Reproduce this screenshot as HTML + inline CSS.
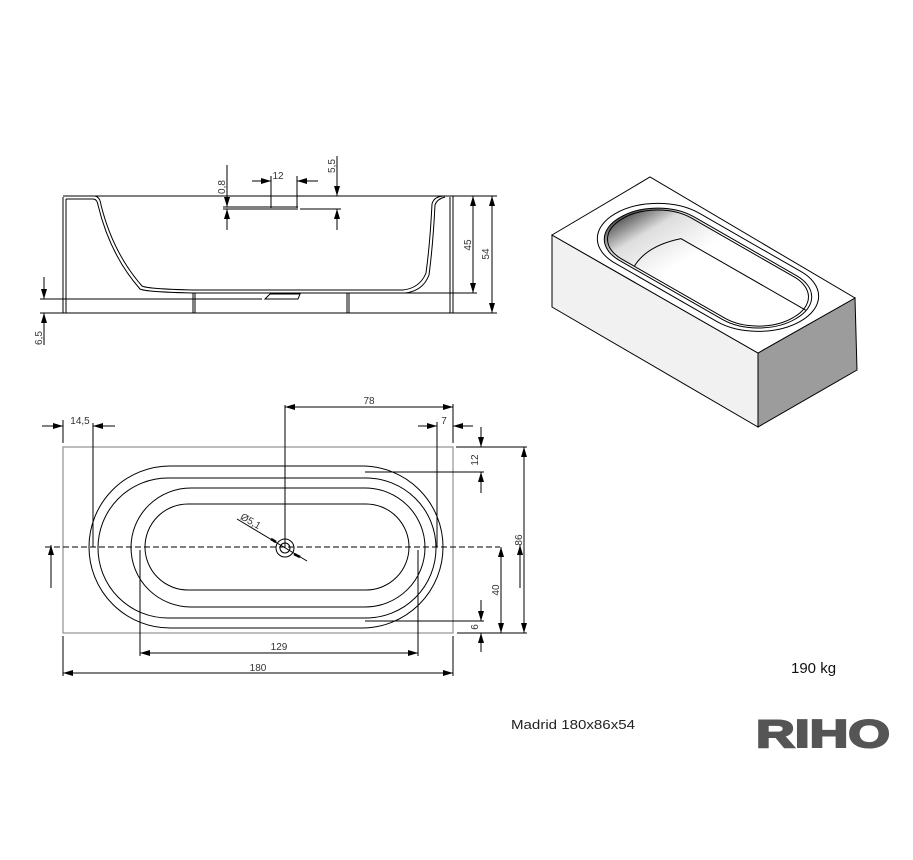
<!DOCTYPE html>
<html><head><meta charset="utf-8"><style>
html,body{margin:0;padding:0;background:#fff;}
svg{display:block;}
text{font-family:"Liberation Sans",Arial,sans-serif;}
</style></head><body>
<svg width="913" height="860" viewBox="0 0 913 860" xmlns="http://www.w3.org/2000/svg">
<defs>
<marker id="a" viewBox="0 0 10 6" refX="10" refY="3" markerWidth="10" markerHeight="6" orient="auto-start-reverse" markerUnits="userSpaceOnUse"><path d="M0,0 L10,3 L0,6 z" fill="#000"/></marker>
<linearGradient id="g" x1="0" y1="0" x2="1" y2="0"><stop offset="0" stop-color="#555"/><stop offset="0.15" stop-color="#ddd"/><stop offset="0.4" stop-color="#fff"/></linearGradient>
</defs>
<g stroke="#000" stroke-width="1" fill="none">
<line x1="63" y1="196" x2="453" y2="196"/>
<line x1="40" y1="313" x2="497" y2="313"/>
<line x1="40" y1="299" x2="262" y2="299"/>
<line x1="405" y1="293" x2="477" y2="293"/>
<line x1="63" y1="197" x2="63" y2="313"/><line x1="66" y1="199" x2="66" y2="313"/>
<line x1="450" y1="197" x2="450" y2="313"/><line x1="453" y1="196" x2="453" y2="313"/>
<path d="M66,199 L93,199 Q97,199 98,205 Q110,255 140,289 Q146,292 193,293 L405,293 Q423,291 429,275 Q433,245 435,205 Q437,199 445,197"/>
<path d="M95,196 Q100,197 101,205 Q113,253 142,286 Q148,289 193,290 L403,290 Q420,288 426,273 Q430,244 432,204 Q434,196 445,196"/>
<line x1="193" y1="293" x2="193" y2="313"/><line x1="195" y1="293" x2="195" y2="313"/>
<line x1="347" y1="293" x2="347" y2="313"/><line x1="349" y1="293" x2="349" y2="313"/>
<path d="M265,299 L270,294 L300,294 L298,299 z"/>
<line x1="223" y1="207" x2="298" y2="207"/><line x1="223" y1="209" x2="298" y2="209"/>
<line x1="271" y1="176" x2="271" y2="208"/><line x1="297" y1="176" x2="297" y2="208"/>
<line x1="252" y1="181" x2="271" y2="181" marker-end="url(#a)"/><line x1="318" y1="181" x2="297" y2="181" marker-end="url(#a)"/>
<line x1="227" y1="165" x2="227" y2="207" marker-end="url(#a)"/><line x1="227" y1="230" x2="227" y2="209" marker-end="url(#a)"/>
<line x1="300" y1="209" x2="341" y2="209"/>
<line x1="337" y1="156" x2="337" y2="196" marker-end="url(#a)"/><line x1="337" y1="230" x2="337" y2="209" marker-end="url(#a)"/>
<line x1="473" y1="196" x2="473" y2="293" marker-start="url(#a)" marker-end="url(#a)"/>
<line x1="453" y1="196" x2="497" y2="196"/>
<line x1="492" y1="196" x2="492" y2="313" marker-start="url(#a)" marker-end="url(#a)"/>
<line x1="44" y1="277" x2="44" y2="299" marker-end="url(#a)"/>
<line x1="44" y1="345" x2="44" y2="313" marker-end="url(#a)"/>

<rect x="63" y="447" width="390" height="186" stroke="#999" stroke-width="1.3"/>
<line x1="45" y1="547" x2="500" y2="547" stroke-dasharray="6,3"/>
<rect x="89" y="466" width="354" height="162" rx="81" ry="81"/>
<rect x="98" y="478" width="338" height="140" rx="70" ry="70"/>
<rect x="131" y="488" width="294" height="119" rx="60" ry="60"/>
<rect x="145" y="504" width="264" height="86" rx="43" ry="43"/>
<circle cx="285" cy="548" r="9"/><circle cx="285" cy="548" r="5"/>
<line x1="237" y1="519" x2="307" y2="561"/>
<path d="M271,539 L276,542" stroke-width="2.5"/><path d="M294,554 L300,557" stroke-width="2.5"/>
<line x1="285" y1="405" x2="285" y2="548"/>
<line x1="285" y1="407" x2="453" y2="407" marker-start="url(#a)" marker-end="url(#a)"/>
<line x1="453" y1="404" x2="453" y2="443"/>
<line x1="63" y1="420" x2="63" y2="443"/>
<line x1="93" y1="423" x2="93" y2="547"/>
<line x1="42" y1="426" x2="63" y2="426" marker-end="url(#a)"/><line x1="115" y1="426" x2="93" y2="426" marker-end="url(#a)"/>
<line x1="437" y1="422" x2="437" y2="547"/>
<line x1="418" y1="426" x2="437" y2="426" marker-end="url(#a)"/><line x1="473" y1="426" x2="453" y2="426" marker-end="url(#a)"/>
<line x1="456" y1="447" x2="527" y2="447"/>
<line x1="365" y1="472" x2="484" y2="472"/>
<line x1="481" y1="427" x2="481" y2="447" marker-end="url(#a)"/><line x1="481" y1="493" x2="481" y2="472" marker-end="url(#a)"/>
<line x1="524" y1="447" x2="524" y2="633" marker-start="url(#a)" marker-end="url(#a)"/>
<line x1="457" y1="633" x2="527" y2="633"/>
<line x1="501" y1="547" x2="501" y2="633" marker-start="url(#a)" marker-end="url(#a)"/>
<line x1="365" y1="621" x2="484" y2="621"/>
<line x1="481" y1="600" x2="481" y2="621" marker-end="url(#a)"/><line x1="481" y1="652" x2="481" y2="633" marker-end="url(#a)"/>
<line x1="140" y1="550" x2="140" y2="656"/><line x1="418" y1="550" x2="418" y2="656"/>
<line x1="140" y1="653" x2="418" y2="653" marker-start="url(#a)" marker-end="url(#a)"/>
<line x1="63" y1="636" x2="63" y2="676"/><line x1="453" y1="636" x2="453" y2="676"/>
<line x1="63" y1="673" x2="453" y2="673" marker-start="url(#a)" marker-end="url(#a)"/>
<line x1="51" y1="588" x2="51" y2="545" marker-end="url(#a)"/>
<line x1="520" y1="588" x2="520" y2="545" marker-end="url(#a)"/>
</g>
<g font-size="10" fill="#333">
<text x="278" y="179" text-anchor="middle">12</text>
<text transform="translate(225,187) rotate(-90)" text-anchor="middle">0,8</text>
<text transform="translate(335,166) rotate(-90)" text-anchor="middle">5,5</text>
<text transform="translate(471,245) rotate(-90)" text-anchor="middle">45</text>
<text transform="translate(489,254) rotate(-90)" text-anchor="middle">54</text>
<text transform="translate(42,338) rotate(-90)" text-anchor="middle">6,5</text>
<text x="369" y="404" text-anchor="middle">78</text>
<text x="80" y="424" text-anchor="middle">14,5</text>
<text x="444" y="424" text-anchor="middle">7</text>
<text transform="translate(478,460) rotate(-90)" text-anchor="middle">12</text>
<text transform="translate(522,540) rotate(-90)" text-anchor="middle">86</text>
<text transform="translate(499,590) rotate(-90)" text-anchor="middle">40</text>
<text transform="translate(478,627) rotate(-90)" text-anchor="middle">6</text>
<text x="279" y="650" text-anchor="middle">129</text>
<text x="258" y="671" text-anchor="middle">180</text>
<text transform="translate(249,524) rotate(30)" text-anchor="middle">Ø5,1</text>
</g>
<g stroke="#000" stroke-width="1">
<path d="M552,235 L758,353 L758,427 L552,307 z" fill="#f1f1f1"/>
<path d="M758,353 L855,298 L857,370 L758,427 z" fill="#9c9c9c"/>
<path d="M552,235 L650,177 L855,298 L758,353 z" fill="#fff"/>
<g transform="matrix(1.144,0.656,1.14,-0.674,552,235)" fill="none">
<rect x="12" y="6" width="163" height="74" rx="37" ry="37" vector-effect="non-scaling-stroke"/>
<rect x="17" y="10" width="154" height="65" rx="32" ry="32" vector-effect="non-scaling-stroke" fill="url(#g)"/>
<rect x="19" y="12" width="150" height="61" rx="30" ry="30" vector-effect="non-scaling-stroke"/>
<path d="M60,12 Q50,33 60,53 L169,53" vector-effect="non-scaling-stroke"/>
</g>
</g>
<text x="511" y="729" font-size="13" fill="#222" font-family="'DejaVu Sans',sans-serif" textLength="124" lengthAdjust="spacingAndGlyphs">Madrid 180x86x54</text>
<text x="791" y="673" font-size="15" fill="#111">190 kg</text>
<text x="756" y="747" font-size="39" font-weight="bold" fill="#555" stroke="#555" stroke-width="2" textLength="134" lengthAdjust="spacingAndGlyphs">RIHO</text>
</svg>
</body></html>
